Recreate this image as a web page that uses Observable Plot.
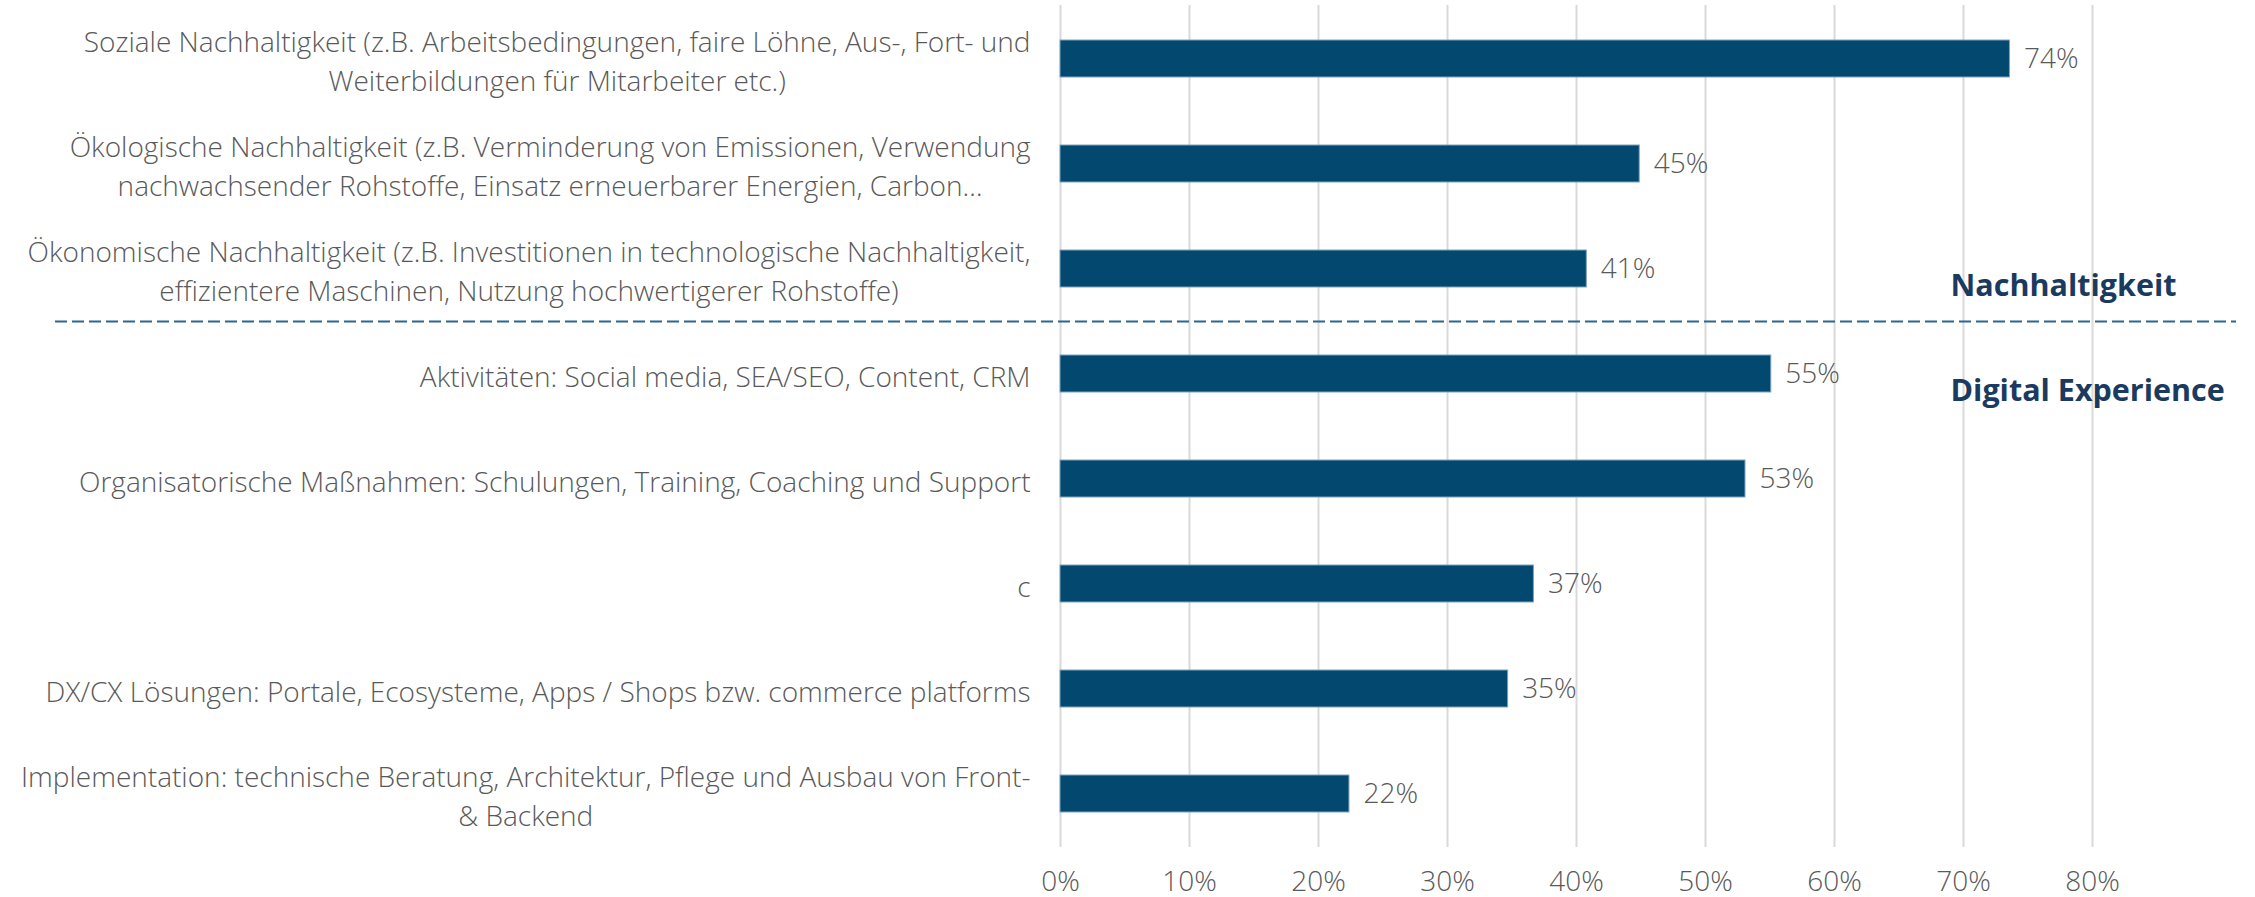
<!DOCTYPE html>
<html>
<head>
<meta charset="utf-8">
<script src="https://cdn.jsdelivr.net/npm/d3@7"></script>
<script src="https://cdn.jsdelivr.net/npm/@observablehq/plot@0.6"></script>
<style>
  html, body { margin: 0; padding: 0; background: #fff; }
</style>
</head>
<body>
<div id="chart"></div>
<script>
const categories = [
  "Soziale Nachhaltigkeit (z.B. Arbeitsbedingungen, faire Löhne, Aus-, Fort- und\nWeiterbildungen für Mitarbeiter etc.)",
  "Ökologische Nachhaltigkeit (z.B. Verminderung von Emissionen, Verwendung\nnachwachsender Rohstoffe, Einsatz erneuerbarer Energien, Carbon…",
  "Ökonomische Nachhaltigkeit (z.B. Investitionen in technologische Nachhaltigkeit,\neffizientere Maschinen, Nutzung hochwertigerer Rohstoffe)",
  "Aktivitäten: Social media, SEA/SEO, Content, CRM",
  "Organisatorische Maßnahmen: Schulungen, Training, Coaching und Support",
  "c",
  "DX/CX Lösungen: Portale, Ecosysteme, Apps / Shops bzw. commerce platforms",
  "Implementation: technische Beratung, Architektur, Pflege und Ausbau von Front-\n& Backend"
];
const values = [0.736, 0.449, 0.408, 0.551, 0.531, 0.367, 0.347, 0.224];
const xTicks = [0, 0.1, 0.2, 0.3, 0.4, 0.5, 0.6, 0.7, 0.8];
const groupNames = ["Nachhaltigkeit", "Digital Experience"];
const groupRows = [categories[2], categories[3]];
const separatorAfter = [categories[2]];

const data = categories.map((c, i) => ({category: c, value: values[i]}));
const groups = groupNames.map((g, i) => ({name: g, category: groupRows[i]}));

const FONT = "'Open Sans', sans-serif";
const GREY = "#595959";

const plot = Plot.plot({
  width: 2255,
  height: 897,
  marginLeft: 1060,
  marginRight: 34,
  marginTop: 5,
  marginBottom: 50,
  style: {fontFamily: FONT, fontSize: "28px", fontWeight: 300, color: GREY, background: "#fff", overflow: "visible"},
  x: {domain: [0, 0.9], axis: null, label: null},
  y: {domain: categories, paddingInner: 0.648, paddingOuter: 0.324, axis: null, label: null},
  marks: [
    Plot.gridX(xTicks, {stroke: "#d9d9d9", strokeOpacity: 1, strokeWidth: 2}),
    Plot.axisX(xTicks, {tickFormat: d3.format(".0%"), tickSize: 0, tickPadding: 24, fontSize: 28, fontWeight: 300, fill: GREY, label: null}),
    Plot.barX(data, {x: "value", y: "category", fill: "#03486f", stroke: "#7fa3bd", strokeWidth: 1}),
    Plot.text(data, {x: "value", y: "category", text: d => d3.format(".0%")(d.value), textAnchor: "start", dx: 14, fill: GREY, fontSize: 28, fontWeight: 300}),
    Plot.text(data, {x: 0, y: "category", text: "category", textAnchor: "end", dx: -30, lineHeight: 1.4, fill: GREY, fontSize: 28, fontWeight: 300}),
    Plot.ruleY(separatorAfter, {y: d => d, dy: 52.6, stroke: "#2b6790", strokeWidth: 2, strokeDasharray: "12,5", insetLeft: -1005, insetRight: -15}),
    Plot.text(groups, {x: 0.7, y: "category", text: "name", textAnchor: "start", dx: -13, dy: 17, fill: "#1b3a60", fontWeight: "bold", fontSize: 30.5})
  ]
});
document.getElementById("chart").appendChild(plot);

// center the lines of multi-line labels within their right-aligned block (as in the original)
d3.select(plot).selectAll("text").each(function() {
  const spans = this.querySelectorAll("tspan");
  if (spans.length < 2) return;
  const w = d3.max(Array.from(spans), s => s.getComputedTextLength());
  this.setAttribute("text-anchor", "middle");
  spans.forEach(s => s.setAttribute("x", -w / 2));
});
</script>
</body>
</html>
